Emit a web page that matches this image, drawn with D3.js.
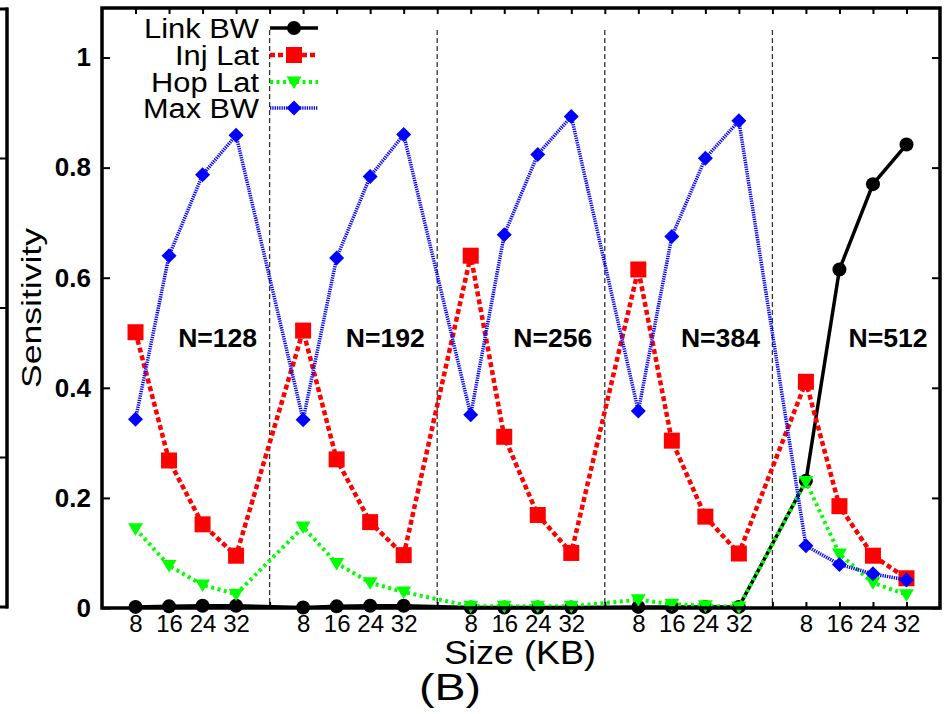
<!DOCTYPE html>
<html>
<head>
<meta charset="utf-8">
<script src="https://cdn.jsdelivr.net/npm/d3@7"></script>
<style>
  body { margin: 0; background: #fff; }
  svg { display: block; }
  text { font-family: "Liberation Sans", Arial, Helvetica, sans-serif; }
</style>
</head>
<body>
<svg id="chart" width="947" height="714"></svg>
<script>
// ---------------- data ----------------
const groups = ["N=128", "N=192", "N=256", "N=384", "N=512"];
const sizes = [8, 16, 24, 32];
const yTicks = [0, 0.2, 0.4, 0.6, 0.8, 1];

const linkBW = [0.002, 0.003, 0.004, 0.004,
                0.001, 0.003, 0.004, 0.004,
                0.001, 0.001, 0.001, 0.001,
                0.002, 0.002, 0.002, 0.002,
                0.231, 0.615, 0.770, 0.842];
const injLat = [0.501, 0.268, 0.152, 0.095,
                0.504, 0.270, 0.156, 0.096,
                0.640, 0.311, 0.169, 0.100,
                0.615, 0.304, 0.166, 0.099,
                0.411, 0.185, 0.095, 0.054];
const hopLat = [0.144, 0.077, 0.042, 0.025,
                0.147, 0.081, 0.046, 0.029,
                0.003, 0.003, 0.003, 0.003,
                0.015, 0.007, 0.004, 0.002,
                0.230, 0.098, 0.046, 0.024];
const maxBW  = [0.343, 0.640, 0.787, 0.859,
                0.342, 0.636, 0.784, 0.860,
                0.351, 0.678, 0.824, 0.893,
                0.358, 0.675, 0.817, 0.885,
                0.113, 0.079, 0.062, 0.051];

const seriesNames = ["Link BW", "Inj Lat", "Hop Lat", "Max BW"];

// ---------------- layout ----------------
const svg = d3.select("#chart");
const L = 102, R = 940, T = 8, B = 608;
const slots = groups.length * (sizes.length + 1);      // 25
const x = d3.scaleLinear().domain([0, slots]).range([L, R]);
const y = d3.scaleLinear().domain([0, 1.09]).range([B, T]);
const slotOf = (g, j) => g * (sizes.length + 1) + j + 1;

const series = [
  { name: seriesNames[0], values: linkBW, color: "#000000", width: 3.5, dash: null,  shape: "circle" },
  { name: seriesNames[1], values: injLat, color: "#ff0000", width: 4.5, dash: "5,3", shape: "square" },
  { name: seriesNames[2], values: hopLat, color: "#00ff00", width: 4,   dash: "3,3.5", shape: "tri" },
  { name: seriesNames[3], values: maxBW,  color: "#0000ff", width: 3.5, dash: "1.3,1", shape: "diamond" }
];

function markerPath(shape) {
  switch (shape) {
    case "circle": return d3.symbol(d3.symbolCircle, Math.PI * 49)();
    case "square": return "M-8,-8H8V8H-8Z";
    case "tri": return "M-7.5,-5.5L7.5,-5.5L0,7Z";
    case "diamond": return "M0,-7.5L7.5,0L0,7.5L-7.5,0Z";
  }
}

// ---------- fragment of neighbouring panel at left edge ----------
const yl = d3.scaleLinear().domain([0, 4]).range([607, 9]);
const frag = svg.append("g");
frag.append("line").attr("x1", 7).attr("x2", 7).attr("y1", yl(4) - 1.5).attr("y2", yl(0) + 1.5)
  .attr("stroke", "#000").attr("stroke-width", 3.5);
d3.range(5).forEach(i => {
  frag.append("line").attr("x1", 0).attr("x2", 8).attr("y1", yl(i)).attr("y2", yl(i))
    .attr("stroke", "#000").attr("stroke-width", (i === 0 || i === 4) ? 3 : 2);
});

// ---------------- separators ----------------
const sepG = svg.append("g");
d3.range(1, groups.length).forEach(g => {
  const sx = x(g * (sizes.length + 1));
  sepG.append("line").attr("x1", sx).attr("x2", sx).attr("y1", y(1.05)).attr("y2", B)
    .attr("stroke", "#333").attr("stroke-width", 1.3).attr("stroke-dasharray", "5,3");
});

// ---------------- axes ----------------
const allSlots = d3.range(1, slots);
const labelFor = s => (s % (sizes.length + 1) === 0) ? "" : sizes[(s % (sizes.length + 1)) - 1];

const yAxis = svg.append("g").attr("transform", `translate(${L},0)`)
  .call(d3.axisLeft(y).tickValues(yTicks).tickSize(-8).tickPadding(11).tickFormat(d3.format("~g")));
yAxis.select(".domain").remove();
yAxis.selectAll("line").attr("stroke-width", 2);
yAxis.selectAll("text").attr("font-size", 26).attr("font-weight", "bold").attr("fill", "#000");

const yAxisR = svg.append("g").attr("transform", `translate(${R},0)`)
  .call(d3.axisRight(y).tickValues(yTicks).tickSize(-8).tickFormat(""));
yAxisR.select(".domain").remove();
yAxisR.selectAll("line").attr("stroke-width", 2);

const xAxis = svg.append("g").attr("transform", `translate(0,${B})`)
  .call(d3.axisBottom(x).tickValues(allSlots).tickSize(-6).tickPadding(7).tickFormat(labelFor));
xAxis.select(".domain").remove();
xAxis.selectAll("line").attr("stroke-width", 2);
xAxis.selectAll("text").attr("font-size", 24).attr("fill", "#000");

const xAxisT = svg.append("g").attr("transform", `translate(0,${T})`)
  .call(d3.axisTop(x).tickValues(allSlots).tickSize(-6).tickFormat(""));
xAxisT.select(".domain").remove();
xAxisT.selectAll("line").attr("stroke-width", 2);

// ---------------- group labels ----------------
groups.forEach((gname, g) => {
  svg.append("text").attr("x", x(g * (sizes.length + 1) + 3.45)).attr("y", y(0.49))
    .attr("dy", "0.36em").attr("text-anchor", "middle")
    .attr("font-size", 25).attr("font-weight", "bold")
    .attr("textLength", 79).attr("lengthAdjust", "spacingAndGlyphs")
    .text(gname);
});

// ---------------- series ----------------
const pts = vals => vals.map((v, i) => ({ k: slotOf(Math.floor(i / sizes.length), i % sizes.length), v }));
const line = d3.line().x(d => x(d.k)).y(d => y(d.v));

series.forEach(s => {
  const data = pts(s.values);
  const g = svg.append("g");
  g.append("path").datum(data).attr("d", line).attr("fill", "none")
    .attr("stroke", s.color).attr("stroke-width", s.width)
    .attr("stroke-dasharray", s.dash).attr("stroke-linejoin", "round");
  g.selectAll("path.m").data(data).join("path").attr("class", "m")
    .attr("d", markerPath(s.shape))
    .attr("transform", d => `translate(${x(d.k)},${y(d.v)})`)
    .attr("fill", s.color);
});

// ---------------- legend ----------------
const legendRows = [28, 55, 82, 108];
const legendLen = [115, 84, 108, 116];
series.forEach((s, i) => {
  const ly = legendRows[i];
  svg.append("text").attr("x", 259).attr("y", ly).attr("dy", "0.36em")
    .attr("text-anchor", "end").attr("font-size", 27)
    .attr("textLength", legendLen[i]).attr("lengthAdjust", "spacingAndGlyphs")
    .text(s.name);
  svg.append("line").attr("x1", 270).attr("x2", 318).attr("y1", ly).attr("y2", ly)
    .attr("stroke", s.color).attr("stroke-width", s.width).attr("stroke-dasharray", s.dash);
  svg.append("path").attr("d", markerPath(s.shape))
    .attr("transform", `translate(294,${ly})`).attr("fill", s.color);
});

// ---------------- frame ----------------
svg.append("rect").attr("x", L).attr("y", T).attr("width", R - L).attr("height", B - T)
  .attr("fill", "none").attr("stroke", "#000").attr("stroke-width", 3.5);

// ---------------- titles ----------------
svg.append("text").attr("transform", "translate(41,308) rotate(-90)")
  .attr("text-anchor", "middle").attr("font-size", 28)
  .attr("textLength", 160).attr("lengthAdjust", "spacingAndGlyphs")
  .text("Sensitivity");
svg.append("text").attr("x", 520).attr("y", 664).attr("text-anchor", "middle")
  .attr("font-size", 33).attr("textLength", 152).attr("lengthAdjust", "spacingAndGlyphs")
  .text("Size (KB)");
svg.append("text").attr("x", 450).attr("y", 700).attr("text-anchor", "middle")
  .attr("font-size", 36).attr("textLength", 62).attr("lengthAdjust", "spacingAndGlyphs")
  .text("(B)");
</script>
</body>
</html>
